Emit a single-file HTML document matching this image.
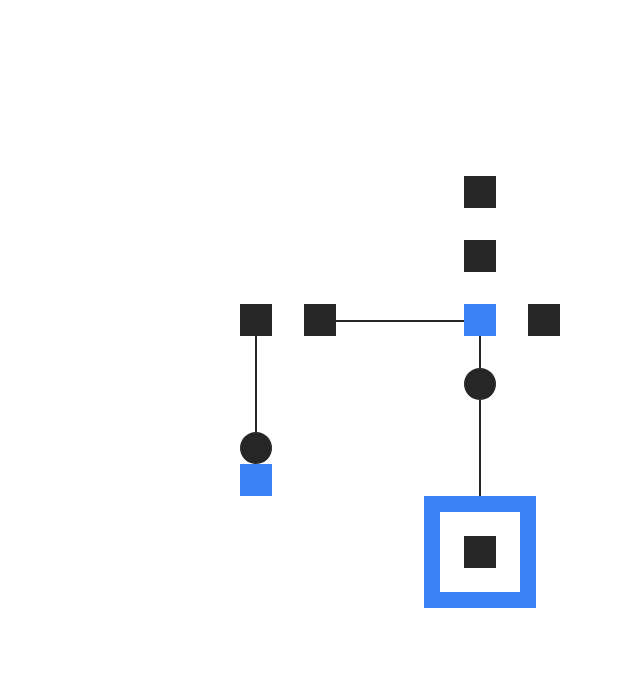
<!DOCTYPE html>
<html><head><meta charset="utf-8"><style>html,body{margin:0;padding:0;background:#fff;}</style></head>
<body>
<svg width="624" height="672" xmlns="http://www.w3.org/2000/svg">
<rect width="624" height="672" fill="#fff"/>
<g stroke="#262626" stroke-width="2">
<line x1="336" y1="321" x2="464" y2="321"/>
<line x1="256" y1="336" x2="256" y2="432"/>
<line x1="480" y1="336" x2="480" y2="368"/>
<line x1="480" y1="400" x2="480" y2="496"/>
</g>
<g fill="#262626">
<rect x="464" y="176" width="32" height="32"/>
<rect x="464" y="240" width="32" height="32"/>
<rect x="240" y="304" width="32" height="32"/>
<rect x="304" y="304" width="32" height="32"/>
<rect x="528" y="304" width="32" height="32"/>
<rect x="464" y="536" width="32" height="32"/>
<circle cx="480" cy="384" r="16"/>
<circle cx="256" cy="448" r="16"/>
</g>
<g fill="#3b82f6">
<rect x="464" y="304" width="32" height="32"/>
<rect x="240" y="464" width="32" height="32"/>
</g>
<rect x="432" y="504" width="96" height="96" fill="none" stroke="#3b82f6" stroke-width="16"/>
</svg>
</body></html>
